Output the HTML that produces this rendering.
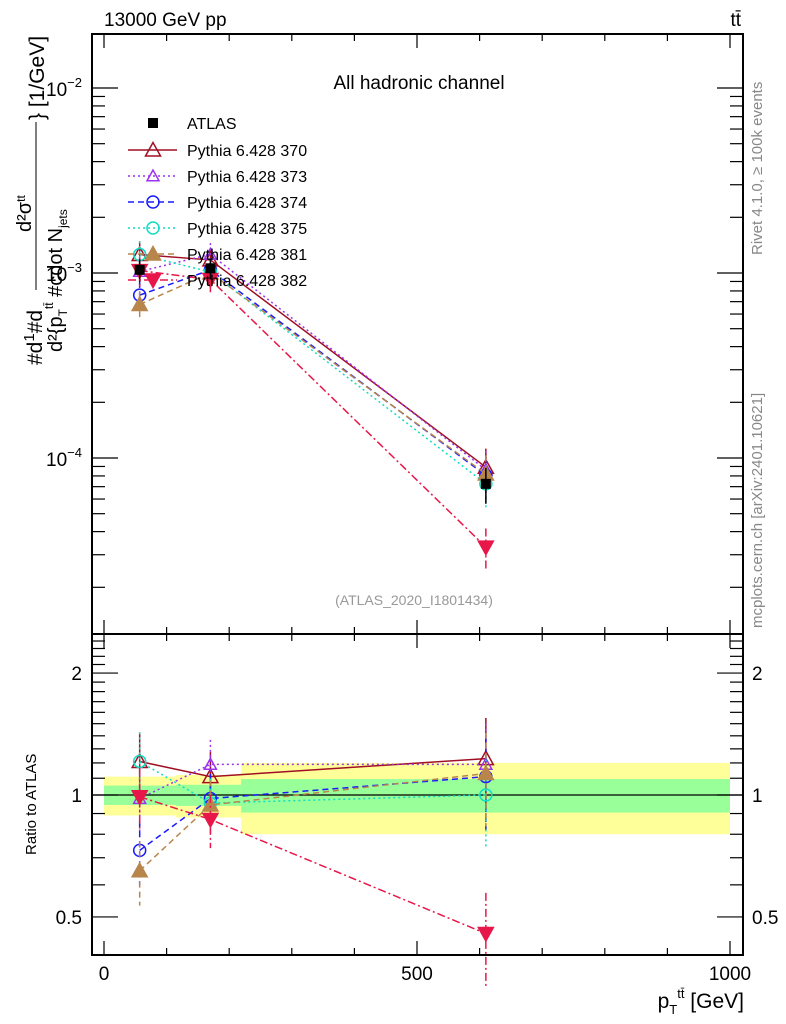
<!DOCTYPE html>
<html><head><meta charset="utf-8"><style>
html,body{margin:0;padding:0;background:#fff;}
svg{display:block;font-family:"Liberation Sans",sans-serif;}
</style></head><body>
<svg id="chart" width="786" height="1024" viewBox="0 0 786 1024" xmlns="http://www.w3.org/2000/svg">
<g id="bands"></g>
<rect x="92" y="34" width="651" height="600" fill="none" stroke="#000" stroke-width="2"/>
<rect x="92" y="634" width="651" height="321" fill="none" stroke="#000" stroke-width="2"/>
<line x1="92" x2="743" y1="795" y2="795" stroke="#000" stroke-width="1.2"/>
<g id="ticks" stroke="#000" stroke-width="1.2"></g>
<g id="series"></g>
<text x="104" y="26" font-size="19">13000 GeV pp</text>
<text x="741" y="26" font-size="19" text-anchor="end">tt̄</text>
<text x="419" y="89" font-size="19" text-anchor="middle">All hadronic channel</text>
<text x="414" y="605" font-size="14" fill="#999" text-anchor="middle">(ATLAS_2020_I1801434)</text>
<text transform="translate(762,255) rotate(-90)" font-size="15" fill="#888">Rivet 4.1.0, ≥ 100k events</text>
<text transform="translate(762,628) rotate(-90)" font-size="15" fill="#888">mcplots.cern.ch [arXiv:2401.10621]</text>
<g font-size="21">
<text transform="translate(42,365) rotate(-90)">#d<tspan font-size="15" dy="-8">1</tspan><tspan dy="8">#d</tspan></text>
<text transform="translate(31,232) rotate(-90)" font-size="20">d²σ<tspan font-size="12" dy="-6">tt</tspan></text>
<text transform="translate(62,352) rotate(-90)" font-size="20">d²{p<tspan font-size="12" dy="5">T</tspan><tspan font-size="12" dy="-14">tt̄</tspan><tspan dy="9"> #cdot N</tspan><tspan font-size="12" dy="5">jets</tspan></text>
<text transform="translate(44,120) rotate(-90)">} [1/GeV]</text>
<line x1="36" x2="36" y1="122" y2="290" stroke="#000" stroke-width="1"/>
</g>
<text transform="translate(36,855) rotate(-90)" font-size="15">Ratio to ATLAS</text>
<text x="744" y="1008" font-size="21" text-anchor="end">p<tspan font-size="13" dy="6">T</tspan><tspan font-size="13" dy="-16">tt̄</tspan><tspan dy="10"> [GeV]</tspan></text>
<g id="legend"></g>
</svg>
<script>
const binEdges=[0,115,219,1000];
const xCenters=[57,170,610];
const atlas=[1.04e-3,1.06e-3,7.25e-5];
const atlasErr=[0.14,0.13,0.22];
const greenBand=[0.055,0.06,0.095];
const yellowBand=[0.11,0.12,0.2];
const seriesNames=["Pythia 6.428 370","Pythia 6.428 373","Pythia 6.428 374","Pythia 6.428 375","Pythia 6.428 381","Pythia 6.428 382"];
const r370=[1.21,1.11,1.23];
const r373=[0.98,1.19,1.19];
const r374=[0.73,0.98,1.11];
const r375=[1.21,0.955,1.0];
const r381=[0.65,0.945,1.13];
const r382=[0.99,0.87,0.455];
const relErr=[0.18,0.15,0.26];
const xTicks=[0,500,1000];
const lowerTicks=[0.5,1,2];

const NS="http://www.w3.org/2000/svg";
const X=v=>104+0.626*v;
const YU=v=>88-185*(Math.log10(v)+2);
const YL=r=>795-405*Math.log10(r);
function el(tag,attrs,parent){const e=document.createElementNS(NS,tag);for(const k in attrs)e.setAttribute(k,attrs[k]);parent.appendChild(e);return e;}

const bands=document.getElementById('bands');
for(let i=0;i<3;i++){
 const x1=X(binEdges[i]),x2=X(binEdges[i+1]);
 const y=el('rect',{x:x1,width:x2-x1,y:YL(1+yellowBand[i]),height:YL(1-yellowBand[i])-YL(1+yellowBand[i]),fill:'#ffff99'},bands);
 
 
 const g=el('rect',{x:x1,width:x2-x1,y:YL(1+greenBand[i]),height:YL(1-greenBand[i])-YL(1+greenBand[i]),fill:'#99ff99'},bands);
 
 
}

const tk=document.getElementById('ticks');
for(let v=0;v<=1000;v+=50){
 const major=v%500===0, mid=v%100===0;
 const len=major?14:(mid?7:0); if(!len) continue;
 [[34,1],[634,-1],[634,1],[955,-1]].forEach(([y0,d])=>el('line',{x1:X(v),x2:X(v),y1:y0,y2:y0+d*len},tk));
}
for(let e=-5;e<=-2;e++){
 for(let m=1;m<10;m++){
  const v=m*Math.pow(10,e);const y=YU(v);if(y<34||y>634)continue;
  const len=m===1?26:13;
  el('line',{x1:92,x2:92+len,y1:y,y2:y},tk);el('line',{x1:743,x2:743-len,y1:y,y2:y},tk);
 }
}
for(let r=0.4;r<=2.41;r+=0.1){
 const y=YL(r);if(y<634||y>955)continue;
 const major=[0.5,1,2].some(q=>Math.abs(q-r)<1e-6);
 const len=major?26:13;
 el('line',{x1:92,x2:92+len,y1:y,y2:y},tk);el('line',{x1:743,x2:743-len,y1:y,y2:y},tk);
}
const svg=document.getElementById('chart');
xTicks.forEach(v=>{const t=el('text',{x:X(v),y:980,'font-size':19,'text-anchor':'middle'},svg);t.textContent=v;
 
 });
[-2,-3,-4].forEach(e=>{const t=el('text',{x:82,y:YU(Math.pow(10,e))+8,'font-size':19,'text-anchor':'end'},svg);
 t.innerHTML='10<tspan font-size="13" dy="-9">−'+(-e)+'</tspan>';
 
 });
lowerTicks.forEach(r=>{[[82,'end'],[752,'start']].forEach(([x,a])=>{const t=el('text',{x:x,y:YL(r)+7,'font-size':19,'text-anchor':a},svg);t.textContent=r;
 
 });});

const styles=[
 {r:r370,c:'#a00f24',dash:'',m:'tri',fill:'none'},
 {r:r373,c:'#9a33ee',dash:'2,3',m:'tri',fill:'none',small:true},
 {r:r374,c:'#1a1aff',dash:'6,4',m:'circ',fill:'none'},
 {r:r375,c:'#11ddc4',dash:'2,3',m:'circ',fill:'none'},
 {r:r381,c:'#b8864b',dash:'6,4',m:'tri',fill:'#b8864b'},
 {r:r382,c:'#e8174a',dash:'8,3,2,3',m:'dtri',fill:'#e8174a'}];
const sg=document.getElementById('series');
function marker(s,x,y,g){
 const sz=s.small?6:7.5;
 if(s.m==='circ') return el('circle',{cx:x,cy:y,r:6,fill:'none',stroke:s.c,'stroke-width':1.5},g);
 if(s.m==='tri') return el('polygon',{points:`${x},${y-sz} ${x-sz},${y+sz*0.8} ${x+sz},${y+sz*0.8}`,fill:s.fill,stroke:s.c,'stroke-width':1.5},g);
 return el('polygon',{points:`${x},${y+sz} ${x-sz},${y-sz*0.8} ${x+sz},${y-sz*0.8}`,fill:s.fill,stroke:s.c,'stroke-width':1.5},g);
}
styles.forEach((s,si)=>{
 const g=el('g',{},sg);
 
 
 const up=s.r.map((r,i)=>atlas[i]*r);
 el('polyline',{points:xCenters.map((x,i)=>X(x)+','+YU(up[i])).join(' '),fill:'none',stroke:s.c,'stroke-width':1.5,'stroke-dasharray':s.dash},g);
 el('polyline',{points:xCenters.map((x,i)=>X(x)+','+YL(s.r[i])).join(' '),fill:'none',stroke:s.c,'stroke-width':1.5,'stroke-dasharray':s.dash},g);
 xCenters.forEach((x,i)=>{
  const e=relErr[i];
  el('line',{x1:X(x),x2:X(x),y1:YU(up[i]*(1+e)),y2:YU(up[i]*(1-e)),stroke:s.c,'stroke-width':1.5,'stroke-dasharray':s.dash||'0'},g);
  el('line',{x1:X(x),x2:X(x),y1:YL(s.r[i]*(1+e)),y2:YL(s.r[i]*(1-e)),stroke:s.c,'stroke-width':1.5,'stroke-dasharray':s.dash||'0'},g);
  const m1=marker(s,X(x),YU(up[i]),g);
  
  
  const m2=marker(s,X(x),YL(s.r[i]),g);
  
  
 });
});
const ag=el('g',{},sg);


xCenters.forEach((x,i)=>{
 el('line',{x1:X(x),x2:X(x),y1:YU(atlas[i]*(1+atlasErr[i])),y2:YU(atlas[i]*(1-atlasErr[i])),stroke:'#000','stroke-width':1.5},ag);
 const r=el('rect',{x:X(x)-5,y:YU(atlas[i])-5,width:10,height:10,fill:'#000'},ag);
 
 
});

const lg=document.getElementById('legend');
const rows=[123,150,176,202,228,254,280];
const a=el('rect',{x:148,y:rows[0]-5,width:10,height:10,fill:'#000'},lg);


const at=el('text',{x:187,y:rows[0]+6,'font-size':16},lg);at.textContent='ATLAS';


styles.forEach((s,i)=>{
 const y=rows[i+1];
 el('line',{x1:128,x2:177,y1:y,y2:y,stroke:s.c,'stroke-width':1.5,'stroke-dasharray':s.dash},lg);
 marker(s,153,y,lg);
 const t=el('text',{x:187,y:y+6,'font-size':16},lg);t.textContent=seriesNames[i];
 
 
});
</script>
</body></html>
